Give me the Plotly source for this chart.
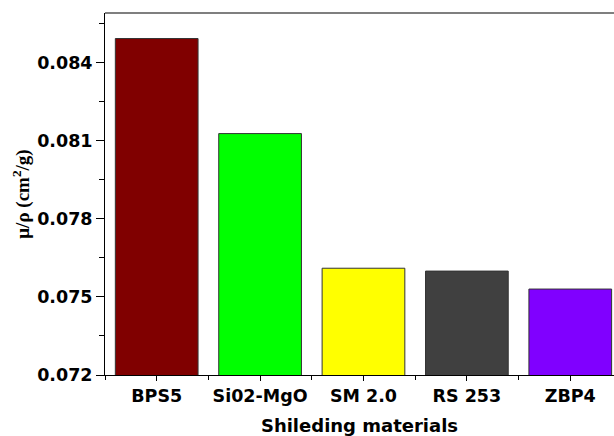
import plotly.graph_objects as go

# Mass attenuation coefficient of each shielding material
materials = ["BPS5", "Si02-MgO", "SM 2.0", "RS 253", "ZBP4"]
mu_rho = [0.08492, 0.08127, 0.07610, 0.07599, 0.07530]
bar_colors = ["#800000", "#00FF00", "#FFFF00", "#404040", "#8000FF"]
y_ticks = [0.072, 0.075, 0.078, 0.081, 0.084]

positions = list(range(len(materials)))

fig = go.Figure(
    go.Bar(
        x=positions,
        y=mu_rho,
        width=0.8,
        marker=dict(color=bar_colors, line=dict(color="#333333", width=1)),
    )
)

tick_font = dict(family="DejaVu Sans", size=17.5, color="black", weight="bold")

fig.update_layout(
    width=614,
    height=436,
    margin=dict(l=105, r=0, t=13, b=61),
    plot_bgcolor="white",
    paper_bgcolor="white",
    showlegend=False,
    xaxis=dict(
        range=[-0.5, 4.423],
        tickvals=positions,
        ticktext=materials,
        tickfont=tick_font,
        ticks="outside",
        ticklen=5,
        tickcolor="black",
        showline=True,
        linecolor="black",
        linewidth=1,
        showgrid=False,
        zeroline=False,
        minor=dict(tick0=-0.5, dtick=1, ticks="outside", ticklen=4, tickcolor="black"),
        title=dict(
            text="Shileding materials",
            font=dict(family="DejaVu Sans", size=18, color="black", weight="bold"),
            standoff=14,
        ),
    ),
    yaxis=dict(
        range=[0.072, 0.0859],
        tickvals=y_ticks,
        tickformat=".3f",
        tickfont=tick_font,
        ticks="outside",
        ticklen=8,
        tickcolor="black",
        showline=True,
        linecolor="black",
        linewidth=1,
        showgrid=False,
        zeroline=False,
        minor=dict(tick0=0.072, dtick=0.0015, ticks="outside", ticklen=5, tickcolor="black"),
        title=dict(
            text="μ/ρ (cm<sup>2</sup>/g)",
            font=dict(family="Liberation Serif, Times New Roman", size=19, color="black", weight="bold"),
            standoff=2,
        ),
    ),
    shapes=[
        dict(
            type="line", xref="paper", yref="paper",
            x0=0, x1=1, y0=1, y1=1,
            line=dict(color="#555555", width=1.5),
        )
    ],
)

fig.write_html("out.html")
